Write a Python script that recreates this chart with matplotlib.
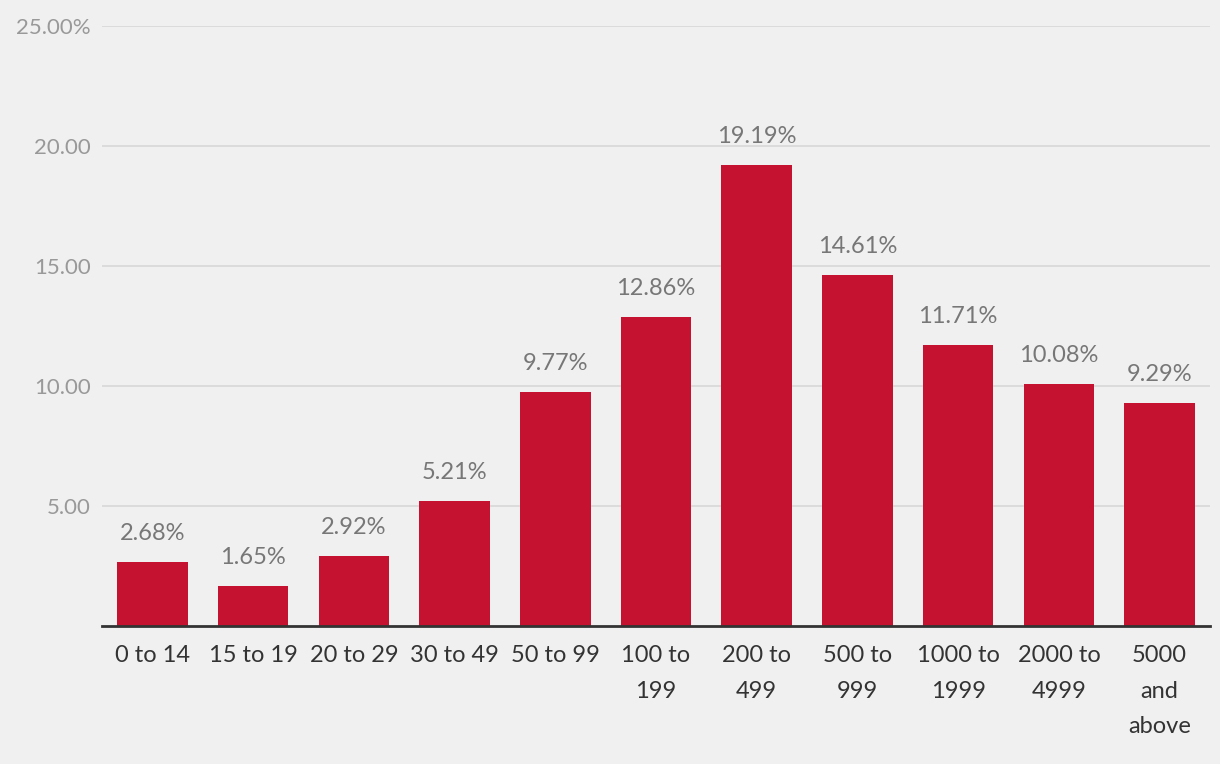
import matplotlib.pyplot as plt

categories = ['0 to 14', '15 to 19', '20 to 29', '30 to 49', '50 to 99', '100 to\n199',
              '200 to\n499', '500 to\n999', '1000 to\n1999', '2000 to\n4999', '5000\nand\nabove']
values = [2.68, 1.65, 2.92, 5.21, 9.77, 12.86, 19.19, 14.61, 11.71, 10.08, 9.29]
yticks = [5, 10, 15, 20, 25]
ytick_labels = ['5.00', '10.00', '15.00', '20.00', '25.00%']

plt.rcParams['font.family'] = ['Lato', 'DejaVu Sans']
bg = '#f0f0f0'

fig = plt.figure(figsize=(12.2, 7.64), dpi=100, facecolor=bg)
ax = fig.add_axes([102 / 1220, 1 - 626 / 764, 1108 / 1220, 600 / 764])
ax.set_facecolor(bg)

x = range(len(values))
ax.bar(x, values, width=0.7, color='#c41230', zorder=3)
for i, v in enumerate(values):
    ax.text(i, v + 0.75, f'{v:.2f}%', ha='center', va='bottom', fontsize=17, color='#777777')

ax.set_xlim(-0.5, len(values) - 0.5)
ax.set_ylim(0, 25)
ax.set_yticks(yticks)
ax.set_yticklabels(ytick_labels, fontsize=16, color='#999999')
ax.set_xticks(list(x))
ax.set_xticklabels(categories, fontsize=17, color='#333333', linespacing=1.85, va='top')
ax.tick_params(axis='y', length=0, pad=8)
ax.tick_params(axis='x', length=0, pad=14)
ax.grid(axis='y', color='#d9d9d9', linewidth=1.3, zorder=0)
for s in ['top', 'right', 'left']:
    ax.spines[s].set_visible(False)
ax.spines['bottom'].set_color('#333333')
ax.spines['bottom'].set_linewidth(2)
ax.spines['bottom'].set_zorder(4)

fig.savefig('out.png', dpi=100, facecolor=bg)
